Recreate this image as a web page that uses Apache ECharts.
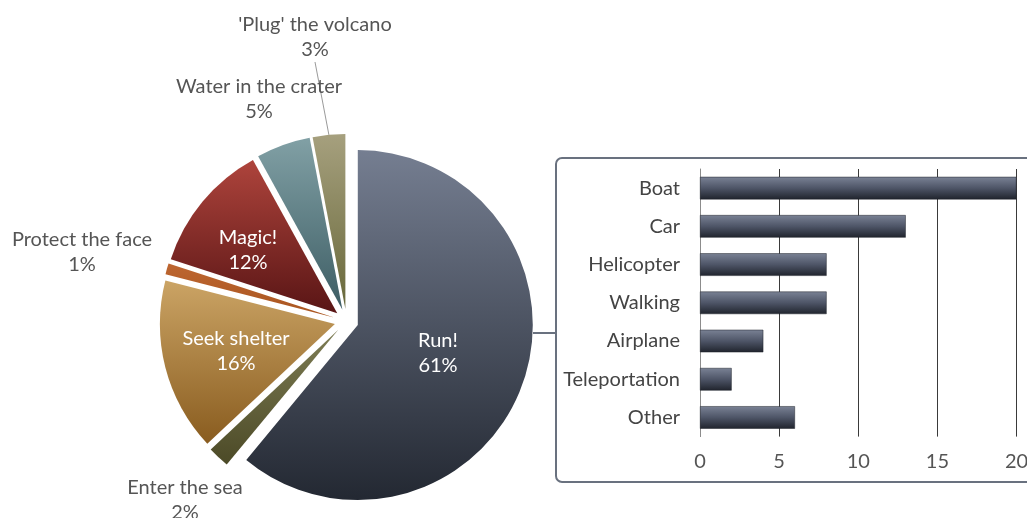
<!DOCTYPE html>
<html>
<head>
<meta charset="utf-8">
<script src="https://cdn.jsdelivr.net/npm/echarts@6/dist/echarts.min.js"></script>
<style>
  html, body { margin: 0; padding: 0; background: #ffffff; }
  #chart { width: 1027px; height: 518px; }
</style>
</head>
<body>
<div id="chart"></div>
<script>
// Survey: what to do when the volcano erupts
const sliceNames = ['Run!', 'Enter the sea', 'Seek shelter', 'Protect the face', 'Magic!', 'Water in the crater', "'Plug' the volcano"];
const sliceValues = [61, 2, 16, 1, 12, 5, 3];

// Breakdown of the "Run!" answers by means of escape
const escapeNames = ['Boat', 'Car', 'Helicopter', 'Walking', 'Airplane', 'Teleportation', 'Other'];
const escapeValues = [20, 13, 8, 8, 4, 2, 6];

// Value axis ticks
const axisMin = 0;
const axisMax = 20;
const axisStep = 5;

// Styling -------------------------------------------------------------
const FONT = 'Lato, "Open Sans", sans-serif';
const PIE_CX = 346.5, PIE_CY = 321, PIE_R = 175, EXPLODE = 12;
const sliceGradients = [
  ['#757e91', '#232832'],
  ['#7d7c53', '#4c4a27'],
  ['#cba465', '#895c1f'],
  ['#bd6631', '#a9551f'],
  ['#ae443c', '#591515'],
  ['#81a0a5', '#3d5d64'],
  ['#a6a07e', '#68683a']
];
const insideLabel = { 'Run!': true, 'Seek shelter': true, 'Magic!': true };
const leaderLabel = "'Plug' the volcano";
// label anchors (centre of the two-line text block), one per slice
const labelSpots = [
  [438, 353], [185, 500], [236, 351], [82, 252], [248, 250], [259, 99], [315, 37]
];

function vGrad(top, bottom) {
  return new echarts.graphic.LinearGradient(0, 0, 0, 1, [
    { offset: 0, color: top },
    { offset: 1, color: bottom }
  ]);
}

// Every slice is pulled out along its own bisector, so each one gets a
// pie series of its own whose centre is shifted; the other slices of that
// series stay transparent.
const total = sliceValues.reduce((a, b) => a + b, 0);
let running = 0;
const pieSeries = sliceNames.map((name, i) => {
  const mid = (running + sliceValues[i] / 2) / total * Math.PI * 2;
  running += sliceValues[i];
  const inside = !!insideLabel[name];
  return {
    type: 'pie',
    silent: true,
    center: [PIE_CX + EXPLODE * Math.sin(mid), PIE_CY - EXPLODE * Math.cos(mid)],
    radius: PIE_R,
    startAngle: 90,
    clockwise: true,
    avoidLabelOverlap: false,
    z: 2,
    data: sliceNames.map((n, j) => ({
      name: n,
      value: sliceValues[j],
      itemStyle: { color: j === i ? vGrad(sliceGradients[j][0], sliceGradients[j][1]) : 'rgba(0,0,0,0)' },
      label: { show: j === i },
      labelLine: { show: j === i && n === leaderLabel }
    })),
    itemStyle: { borderWidth: 0 },
    label: {
      formatter: p => p.name + '\n' + Math.round(p.value) + '%',
      color: inside ? '#ffffff' : '#555555',
      fontFamily: FONT,
      fontSize: 20,
      lineHeight: 25,
      align: 'center'
    },
    labelLine: {
      length: 10,
      length2: 0,
      lineStyle: { color: '#9a9a9a', width: 1 }
    },
    labelLayout: function (params) {
      const p = labelSpots[params.dataIndex];
      return { x: p[0], y: p[1], align: 'center', verticalAlign: 'middle' };
    },
    emphasis: { disabled: true }
  };
});

const chart = echarts.init(document.getElementById('chart'), null, { renderer: 'canvas' });

chart.setOption({
  animation: false,
  backgroundColor: '#ffffff',
  graphic: [
    {
      type: 'rect',
      z: 0,
      silent: true,
      shape: { x: 556, y: 158, width: 540, height: 324, r: 6 },
      style: { fill: 'transparent', stroke: '#69717f', lineWidth: 2 }
    },
    {
      type: 'line',
      z: 0,
      silent: true,
      shape: { x1: 533, y1: 333, x2: 556, y2: 333 },
      style: { stroke: '#69717f', lineWidth: 2 }
    }
  ],
  grid: {
    left: 700, top: 169, right: 10.5, bottom: 81.4,
    containLabel: false,
    outerBoundsMode: 'none'
  },
  xAxis: {
    type: 'value',
    min: axisMin,
    max: axisMax,
    interval: axisStep,
    axisLine: { show: false },
    axisTick: { show: false },
    axisLabel: { color: '#555555', fontFamily: FONT, fontSize: 20, margin: 15 },
    splitLine: { show: true, showMinLine: false, lineStyle: { color: '#3a3a3a', width: 1 } }
  },
  yAxis: {
    type: 'category',
    inverse: true,
    data: escapeNames,
    axisLine: { show: true, lineStyle: { color: '#8c8c8c', width: 1 } },
    axisTick: { show: false },
    axisLabel: { color: '#444444', fontFamily: FONT, fontSize: 20, margin: 20 }
  },
  series: pieSeries.concat([
    {
      type: 'bar',
      data: escapeValues,
      barWidth: '59%',
      itemStyle: {
        color: new echarts.graphic.LinearGradient(0, 0, 0, 1, [
          { offset: 0, color: '#7a8295' },
          { offset: 0.5, color: '#4e5567' },
          { offset: 1, color: '#20242d' }
        ]),
        borderColor: '#1f232b',
        borderWidth: 0.5
      },
      emphasis: { disabled: true }
    }
  ])
});
</script>
</body>
</html>
